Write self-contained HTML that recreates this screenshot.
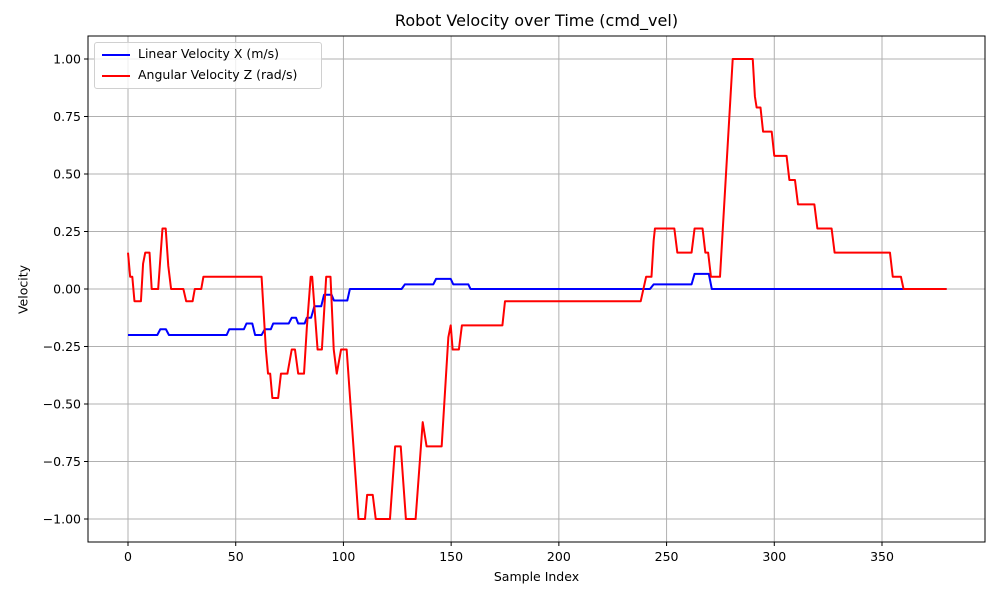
<!DOCTYPE html>
<html><head><meta charset="utf-8"><style>
html,body{margin:0;padding:0;background:#fff;}
svg{display:block;font-family:"DejaVu Sans","Liberation Sans",sans-serif;}
</style></head><body>
<svg id="chart" width="1000" height="600" viewBox="0 0 1000 600"></svg>
<script>
// ---- data ----
const linearX = [0,13.6,15,17.6,19,45.8,47,53.8,55,57.7,59,62,63.5,66.3,67.4,74.6,76,78,79,82,83,85,86.5,89.7,91,94.5,95.6,101.8,103,127,128.5,141.7,143,149.8,151,158,159,242.3,244,261.6,263,269.6,271,380];
const linearY = [-0.2,-0.2,-0.175,-0.175,-0.2,-0.2,-0.175,-0.175,-0.15,-0.15,-0.2,-0.2,-0.175,-0.175,-0.15,-0.15,-0.125,-0.125,-0.15,-0.15,-0.125,-0.125,-0.075,-0.075,-0.025,-0.025,-0.05,-0.05,0,0,0.02,0.02,0.044,0.044,0.02,0.02,0,0,0.02,0.02,0.066,0.066,0,0];
const angularX = [0,1,2,3,6,7,8,10,11,14,16,17.5,18.7,20,25.7,27,30,31,34,35,62,64,65,66,67,69.7,71,74,76,77.5,79,81.7,83,84.8,85.5,88,90,92,94,95.5,96.9,98.9,101.5,107,110,111,113.6,115,121.6,124,126.6,129,133.5,136.8,138.6,145.6,148.7,149.8,150.7,153.6,155,173.8,175,238,240.5,243,244,244.6,253.6,255,261.6,263,266.7,268,269.3,270.6,274.8,280.7,290,291,291.8,293.6,294.8,298.8,300,305.7,307,309.6,311,318.6,320,326.6,328,353.7,355,358.8,360,380];
const angularY = [0.158,0.053,0.053,-0.053,-0.053,0.11,0.158,0.158,0,0,0.263,0.263,0.1,0,0,-0.053,-0.053,0,0,0.053,0.053,-0.263,-0.368,-0.368,-0.474,-0.474,-0.368,-0.368,-0.263,-0.263,-0.368,-0.368,-0.17,0.053,0.053,-0.263,-0.263,0.053,0.053,-0.263,-0.368,-0.263,-0.263,-1,-1,-0.895,-0.895,-1,-1,-0.684,-0.684,-1,-1,-0.579,-0.684,-0.684,-0.21,-0.158,-0.263,-0.263,-0.158,-0.158,-0.053,-0.053,0.053,0.053,0.21,0.263,0.263,0.158,0.158,0.263,0.263,0.158,0.158,0.053,0.053,1,1,0.837,0.789,0.789,0.684,0.684,0.579,0.579,0.474,0.474,0.368,0.368,0.263,0.263,0.158,0.158,0.053,0.053,0,0];
const xTicks = [0,50,100,150,200,250,300,350];
const yTicks = [-1.0,-0.75,-0.5,-0.25,0,0.25,0.5,0.75,1.0];

// ---- layout ----
const L=88,R=985,T=36,B=542;
const yMin=-1.1,yMax=1.1;
const sx=v=>128+v*754/350;
const sy=v=>B-(v-yMin)/(yMax-yMin)*(B-T);
const svg=document.getElementById('chart');
const NS='http://www.w3.org/2000/svg';
function mk(tag,attrs,parent){const e=document.createElementNS(NS,tag);for(const k in attrs)e.setAttribute(k,attrs[k]);(parent||svg).appendChild(e);return e;}

// grid
const grid=mk('g',{});


xTicks.forEach(t=>{const l=mk('line',{x1:sx(t),x2:sx(t),y1:T,y2:B,stroke:'#b0b0b0','stroke-width':1},grid);

});
yTicks.forEach(t=>{const l=mk('line',{x1:L,x2:R,y1:sy(t),y2:sy(t),stroke:'#b0b0b0','stroke-width':1},grid);

});

// series
function line(xs,ys,color,name){
  const d=xs.map((x,i)=>(i?'L':'M')+sx(x).toFixed(2)+','+sy(ys[i]).toFixed(2)).join(' ');
  const p=mk('path',{d:d,fill:'none',stroke:color,'stroke-width':2,'stroke-linejoin':'round'});
  
  
}
line(linearX,linearY,'#0000ff','linear-velocity-line');
line(angularX,angularY,'#ff0000','angular-velocity-line');

// axes frame
const fr=mk('rect',{x:L,y:T,width:R-L,height:B-T,fill:'none',stroke:'#000','stroke-width':1});



// ticks
xTicks.forEach(t=>{
  mk('line',{x1:sx(t),x2:sx(t),y1:B,y2:B+4,stroke:'#000'});
  const tx=mk('text',{x:sx(t),y:B+19,'text-anchor':'middle','font-size':12.5,fill:'#000'});
  tx.textContent=t;
  
  
});
yTicks.forEach(t=>{
  mk('line',{x1:L-4,x2:L,y1:sy(t),y2:sy(t),stroke:'#000'});
  const tx=mk('text',{x:L-7,y:sy(t)+4.5,'text-anchor':'end','font-size':12.5,fill:'#000'});
  tx.textContent=(t<0?'\u2212':'')+Math.abs(t).toFixed(2);
  
  
});
</script>
<div style="position:absolute;left:0;top:0;width:1000px;height:600px;pointer-events:none;font-family:'DejaVu Sans','Liberation Sans',sans-serif;">
  <div style="position:absolute;left:88px;width:897px;top:11px;text-align:center;font-size:16px;">Robot Velocity over Time (cmd_vel)</div>
  <div style="position:absolute;left:88px;width:897px;top:569px;text-align:center;font-size:12.5px;">Sample Index</div>
  <div style="position:absolute;left:-12px;top:282px;width:70px;text-align:center;font-size:12.5px;transform:rotate(-90deg);">Velocity</div>
  <div style="position:absolute;left:94px;top:42px;width:226px;height:45px;border:1px solid #d0d0d0;border-radius:3px;background:rgba(255,255,255,0.8);font-size:12.5px;">
    <div style="position:absolute;left:7px;top:3px;white-space:nowrap;"><span style="display:inline-block;width:28px;height:2px;background:#0000ff;vertical-align:middle;margin-right:8px;"></span>Linear Velocity X (m/s)</div>
    <div style="position:absolute;left:7px;top:24px;white-space:nowrap;"><span style="display:inline-block;width:28px;height:2px;background:#ff0000;vertical-align:middle;margin-right:8px;"></span>Angular Velocity Z (rad/s)</div>
  </div>
</div>
</body></html>
